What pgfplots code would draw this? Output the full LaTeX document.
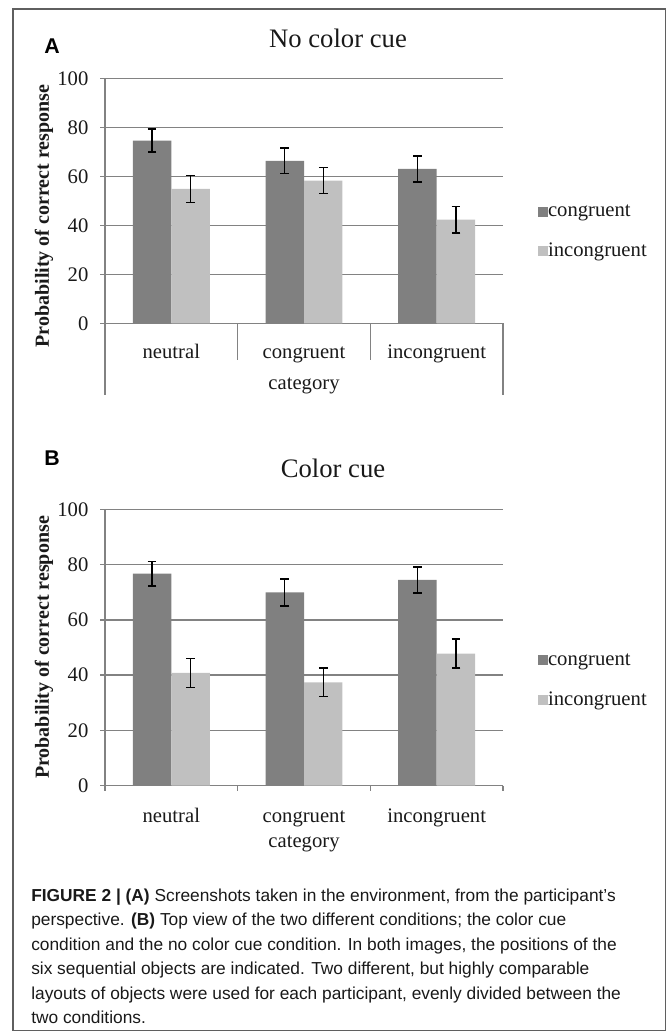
\documentclass[border=0pt]{standalone}
\usepackage{fontspec}
\setmainfont{Liberation Serif}
\newfontfamily\capfont{Liberation Sans}
\usepackage{pgfplots}
\usepackage{pgfplotstable}
\pgfplotsset{compat=1.18}

\definecolor{dbar}{RGB}{128,128,128}
\definecolor{lbar}{RGB}{192,192,192}
\definecolor{axgray}{RGB}{130,130,130}
\definecolor{bordergray}{RGB}{95,95,95}
\definecolor{txt}{RGB}{25,25,25}

% columns: position of congruent bar, value, error, position of incongruent bar, value, error
\pgfplotstableread{
xc c ce xi i ie
-0.145 74.6 4.7 0.145 54.9 5.5
0.855 66.3 5.2 1.145 58.2 5.3
1.855 63.0 5.3 2.145 42.3 5.4
}\dataA
\pgfplotstableread{
xc c ce xi i ie
-0.145 76.7 4.5 0.145 40.8 5.3
0.855 69.9 4.9 1.145 37.4 5.2
1.855 74.5 4.7 2.145 47.8 5.3
}\dataB

\pgfplotsset{
  panel/.style={
    scale only axis, width=298.5pt,
    xmin=-0.5, xmax=2.5, ymin=0, ymax=100,
    clip=false,
    axis x line*=bottom, axis y line*=left,
    xtick pos=bottom, ytick pos=left,
    axis line style={-, draw=axgray, line width=1pt},
    ytick={0,20,...,100}, ymajorgrids, grid style={axgray, line width=1pt},
    tick align=outside, major tick length=3.75pt,
    ytick style={draw=axgray, line width=1pt},
    xtick={0,1,2}, xticklabels={neutral,congruent,incongruent},
    xtick style={draw=none},
    /pgf/number format/assume math mode=true,
    ticklabel style={font=\fontsize{15.5}{18}\selectfont, text=txt},
    xlabel={category},
    ylabel={Probability of correct response},
    label style={text=txt},
    ylabel style={font=\bfseries\fontsize{15}{18}\selectfont, anchor=center},
    legend cell align=left,
    legend style={draw=none, fill=none, inner sep=0pt, outer sep=0pt,
      font=\fontsize{15.5}{18}\selectfont, text=txt, row sep=18.5pt,
      nodes={inner sep=0pt},
      /tikz/every even column/.append style={column sep=3.5pt}},
  },
  ylabs/.style={yticklabel style={anchor=east, inner sep=0pt}, yticklabel shift=8.5pt},
  cbar/.style={ybar, fill=dbar, draw=none, bar width=0.29, bar shift=0pt,
    legend image code/.code={\fill[dbar] (0pt,-3.75pt) rectangle (7.5pt,3.75pt);},
    error bars/.cd, y dir=both, y explicit,
    error bar style={black, line width=1.1pt},
    error mark options={black, line width=1.1pt, mark size=3.3pt, rotate=90}},
  ibar/.style={ybar, fill=lbar, draw=none, bar width=0.29, bar shift=0pt,
    legend image code/.code={\fill[lbar] (0pt,-3.75pt) rectangle (7.5pt,3.75pt);},
    error bars/.cd, y dir=both, y explicit,
    error bar style={black, line width=1.1pt},
    error mark options={black, line width=1.1pt, mark size=3.3pt, rotate=90}},
}

\begin{document}
\begin{tikzpicture}
\useasboundingbox (0pt,0pt) rectangle (500.25pt,774pt);
\draw[bordergray, line width=0.8pt] (9.75pt,1.125pt) rectangle (499.1pt,767.25pt);

\node[font=\capfont\bfseries\fontsize{16}{18}\selectfont, inner sep=0pt] at (39pt,739.5pt) {A};
\node[font=\capfont\bfseries\fontsize{16}{18}\selectfont, inner sep=0pt] at (39pt,430.5pt) {B};
\node[font=\fontsize{20}{24}\selectfont, text=txt, inner sep=0pt] at (253.5pt,745.5pt) {No color cue};
\node[font=\fontsize{20}{24}\selectfont, text=txt, inner sep=0pt] at (249.75pt,423pt) {Color cue};

% Panel A
\begin{axis}[panel, ylabs, at={(78.75pt,531.525pt)}, anchor=south west, height=183.75pt,
  xticklabel style={anchor=base, inner sep=0pt, yshift=-23pt},
  xlabel style={at={(axis description cs:0.5,0)}, anchor=base, yshift=-50pt, font=\fontsize{15.5}{18}\selectfont},
  ylabel style={at={(axis description cs:-0.153,0.438)}},
  legend style={at={(axis description cs:1.088,0.373)}, anchor=west},
]
\addplot[cbar] table[x=xc, y=c, y error=ce] {\dataA};
\addlegendentry{congruent}
\addplot[ibar] table[x=xi, y=i, y error=ie] {\dataA};
\addlegendentry{incongruent}
\draw[axgray, line width=1pt] (axis cs:-0.5,0) -- ++(0pt,-53.8pt);
\draw[axgray, line width=1pt] (axis cs:2.5,0) -- ++(0pt,-53.8pt);
\draw[axgray, line width=1pt] (axis cs:0.5,0) -- ++(0pt,-27.5pt);
\draw[axgray, line width=1pt] (axis cs:1.5,0) -- ++(0pt,-27.5pt);
\end{axis}

% Panel B
\begin{axis}[panel, ylabs, at={(78.75pt,184.725pt)}, anchor=south west, height=207.3pt,
  xticklabel style={anchor=base, inner sep=0pt, yshift=-23.5pt},
  xlabel style={at={(axis description cs:0.5,0)}, anchor=base, yshift=-46pt, font=\fontsize{15.5}{18}\selectfont},
  ylabel style={at={(axis description cs:-0.153,0.5)}},
  legend style={at={(axis description cs:1.088,0.381)}, anchor=west},
]
\addplot[cbar] table[x=xc, y=c, y error=ce] {\dataB};
\addlegendentry{congruent}
\addplot[ibar] table[x=xi, y=i, y error=ie] {\dataB};
\addlegendentry{incongruent}
\draw[axgray, line width=1pt] (axis cs:-0.5,0) -- ++(0pt,-3.75pt);
\draw[axgray, line width=1pt] (axis cs:0.5,0) -- ++(0pt,-3.75pt);
\draw[axgray, line width=1pt] (axis cs:1.5,0) -- ++(0pt,-3.75pt);
\draw[axgray, line width=1pt] (axis cs:2.5,0) -- ++(0pt,-3.75pt);
\end{axis}

% Caption
\begin{scope}[every node/.style={anchor=base west, inner sep=0pt, font=\capfont\fontsize{13}{16}\selectfont, text=txt}]
\node at (23.25pt,97.875pt) {{\bfseries FIGURE 2 | (A)} Screenshots taken in the environment, from the participant’s};
\node at (23.25pt,79.575pt) {perspective. {\bfseries (B)} Top view of the two different conditions; the color cue};
\node at (23.25pt,61.275pt) {condition and the no color cue condition. In both images, the positions of the};
\node at (23.25pt,42.975pt) {six sequential objects are indicated. Two different, but highly comparable};
\node at (23.25pt,24.675pt) {layouts of objects were used for each participant, evenly divided between the};
\node at (23.25pt,6.375pt) {two conditions.};
\end{scope}
\end{tikzpicture}
\end{document}
